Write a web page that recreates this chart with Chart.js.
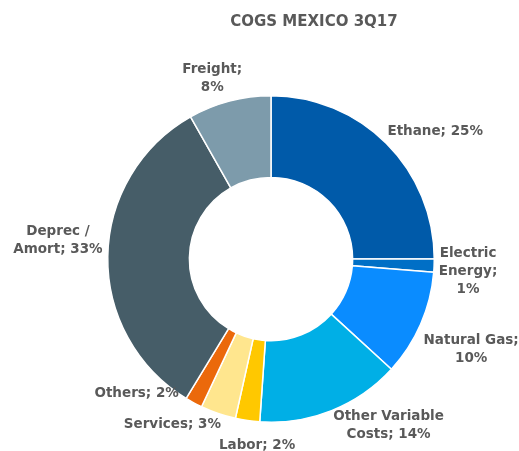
<!DOCTYPE html>
<html>
<head>
<meta charset="utf-8">
<script src="https://cdn.jsdelivr.net/npm/chart.js@4/dist/chart.umd.min.js"></script>
<style>
  html, body { margin: 0; padding: 0; background: #ffffff; }
  #wrap { width: 519px; height: 451px; position: relative; }
</style>
</head>
<body>
<div id="wrap"><canvas id="c" width="519" height="451"></canvas></div>
<script>
// ---- Data ----
const chartTitle = "COGS MEXICO 3Q17";
const categories = ["Ethane", "Electric Energy", "Natural Gas", "Other Variable Costs", "Labor", "Services", "Others", "Deprec / Amort", "Freight"];
const shares = [25.0, 1.3, 10.5, 14.3, 2.4, 3.5, 1.7, 33.1, 8.2];
const pctLabels = ["25%", "1%", "10%", "14%", "2%", "3%", "2%", "33%", "8%"];
// how each data label is broken into lines (text only)
const labelLines = [
  ["Ethane; 25%"],
  ["Electric", "Energy;", "1%"],
  ["Natural Gas;", "10%"],
  ["Other Variable", "Costs; 14%"],
  ["Labor; 2%"],
  ["Services; 3%"],
  ["Others; 2%"],
  ["Deprec /", "Amort; 33%"],
  ["Freight;", "8%"]
];

// ---- Styling ----
const colors = ["#005AA9", "#006FC6", "#0A8CFF", "#00AFE6", "#FFC800", "#FFE68E", "#EB690B", "#465D68", "#7D9BAB"];
// label block centres, in units of the outer radius, relative to the doughnut centre
const labelOffsets = [
  [1.006, -0.780], [1.207, 0.076], [1.226, 0.555], [0.720, 1.021], [-0.085, 1.140],
  [-0.604, 1.012], [-0.823, 0.823], [-1.305, -0.113], [-0.360, -1.104]
];
const textColor = "#595959";
const fontFam = "'DejaVu Sans', Verdana, sans-serif";

const labelPlugin = {
  id: 'sliceLabels',
  afterDraw(chart) {
    const ctx = chart.ctx;
    const meta = chart.getDatasetMeta(0);
    ctx.save();
    ctx.fillStyle = textColor;
    ctx.textAlign = 'center';
    ctx.textBaseline = 'middle';
    // title
    ctx.font = "bold 15px " + fontFam;
    ctx.fillText(chartTitle, 314, 22);
    // labels
    ctx.font = "bold 13.5px " + fontFam;
    const lh = 18.3;
    meta.data.forEach((arc, i) => {
      const p = arc.getProps(['x', 'y', 'outerRadius'], true);
      const cx = p.x + labelOffsets[i][0] * p.outerRadius;
      const cy = p.y + labelOffsets[i][1] * p.outerRadius;
      const lines = labelLines[i];
      const y0 = cy - (lines.length - 1) * lh / 2;
      lines.forEach((t, k) => ctx.fillText(t, cx, y0 + k * lh));
    });
    ctx.restore();
  }
};

new Chart(document.getElementById('c'), {
  type: 'doughnut',
  data: {
    labels: categories,
    datasets: [{
      data: shares,
      backgroundColor: colors,
      borderColor: '#ffffff',
      borderWidth: 1.5,
      hoverOffset: 0
    }]
  },
  options: {
    responsive: false,
    animation: false,
    cutout: '50%',
    layout: { padding: { left: 107, right: 84, top: 95, bottom: 28 } },
    plugins: {
      legend: { display: false },
      title: { display: false },
      tooltip: { enabled: false }
    }
  },
  plugins: [labelPlugin]
});
</script>
</body>
</html>
